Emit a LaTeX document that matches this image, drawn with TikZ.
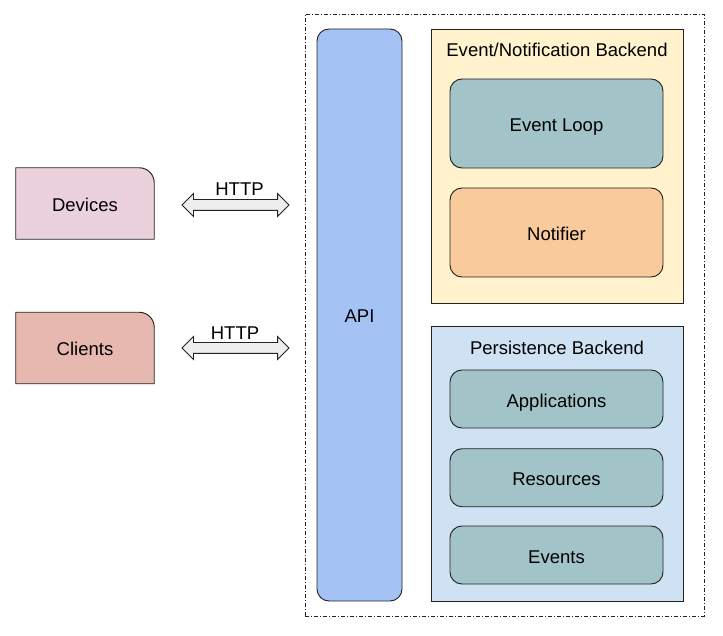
\documentclass[tikz,border=0pt]{standalone}
\usepackage{fontspec}
\setmainfont{Liberation Sans}
\usetikzlibrary{arrows.meta, positioning, backgrounds, shapes.arrows}
\definecolor{ink}{HTML}{000000}
\definecolor{edge}{HTML}{222222}
\definecolor{devfill}{HTML}{EAD1DC}
\definecolor{clifill}{HTML}{E6B8AF}
\definecolor{apifill}{HTML}{A4C2F4}
\definecolor{evfill}{HTML}{FFF2CC}
\definecolor{psfill}{HTML}{CFE2F3}
\definecolor{partfill}{HTML}{A2C4C9}
\definecolor{notefill}{HTML}{F9CB9C}
\definecolor{pipefill}{HTML}{EEEEEE}
\tikzset{
  font=\fontsize{15.8}{19}\selectfont,
  %
  box/.style={
    draw=edge, line width=0.8pt, align=center, text=ink, inner sep=0pt,
    text height=0.6cm, text depth=0.12cm,
  },
  backend/.style={box, minimum width=7.56cm},
  part/.style={box, fill=partfill, rounded corners=0.36cm,
               minimum width=6.39cm, minimum height=1.74cm},
  actor/.style={inner sep=0pt, text=ink, minimum width=4.14cm,
                minimum height=2.13cm, text height=0.6cm, text depth=0.12cm},
  actorline/.style={draw=edge, line width=0.8pt},
  %
  pipe/.style={double arrow, draw=edge, line width=0.8pt, fill=pipefill,
               inner xsep=0pt, inner ysep=0.15cm, minimum height=3.21cm,
               double arrow head extend=0.18cm},
  lbl/.style={text=ink, inner sep=1pt},
  frame/.style={draw=edge, line width=0.7pt,
                dash pattern=on 0.12cm off 0.06cm on 0.03cm off 0.06cm},
}
\begin{document}
\begin{tikzpicture}[x=1cm, y=1cm]

  \useasboundingbox (0,0) rectangle (21.69,19.05);

  % system boundary
  \draw[frame] (9.15,0.57) rectangle (21.12,18.63);

  \node[box, fill=apifill, rounded corners=0.36cm,
        minimum width=2.55cm, minimum height=17.16cm] (api) at (10.785,9.6) {API};

  % event / notification side
  \node[backend, fill=evfill, minimum height=8.22cm] (evback) at (16.71,14.07) {};
  \node[lbl] (evtitle) at (16.71,17.55) {Event/Notification Backend};
  \node[part, minimum height=2.67cm] (evloop)   at (16.695,15.345) {Event Loop};
  \node[part, fill=notefill, minimum height=2.67cm] (notifier) at (16.695,12.075) {Notifier};

  % persistence side
  \node[backend, fill=psfill, minimum height=8.25cm] (psback) at (16.71,5.13) {};
  \node[lbl] (pstitle) at (16.71,8.6) {Persistence Backend};
  \node[part] (apps)      at (16.695,7.08)   {Applications};
  \node[part] (resources) at (16.695,4.7175) {Resources};
  \node[part] (events)    at (16.695,2.4)    {Events};

  % outside actors, only the top right corner is rounded
  \node[actor] (devices) at (2.55,12.945) {Devices};
  \node[actor] (clients) at (2.55,8.61)   {Clients};
  \begin{scope}[on background layer]
    \foreach \who/\col in {devices/devfill, clients/clifill}
      \filldraw[actorline, fill=\col] (\who.south west) -- (\who.north west)
        -- ([xshift=-0.45cm]\who.north east) arc[start angle=90, end angle=0, radius=0.45cm]
        -- (\who.south east) -- cycle;
  \end{scope}

  % HTTP links
  \node[pipe] (devlink) at (7.065,12.9) {};
  \node[pipe] (clilink) at (7.065,8.61) {};
  \node[lbl] (devhttp) at (7.185,13.38) {HTTP};
  \node[lbl] (clihttp) at (7.05,9.06)   {HTTP};

\end{tikzpicture}
\end{document}
